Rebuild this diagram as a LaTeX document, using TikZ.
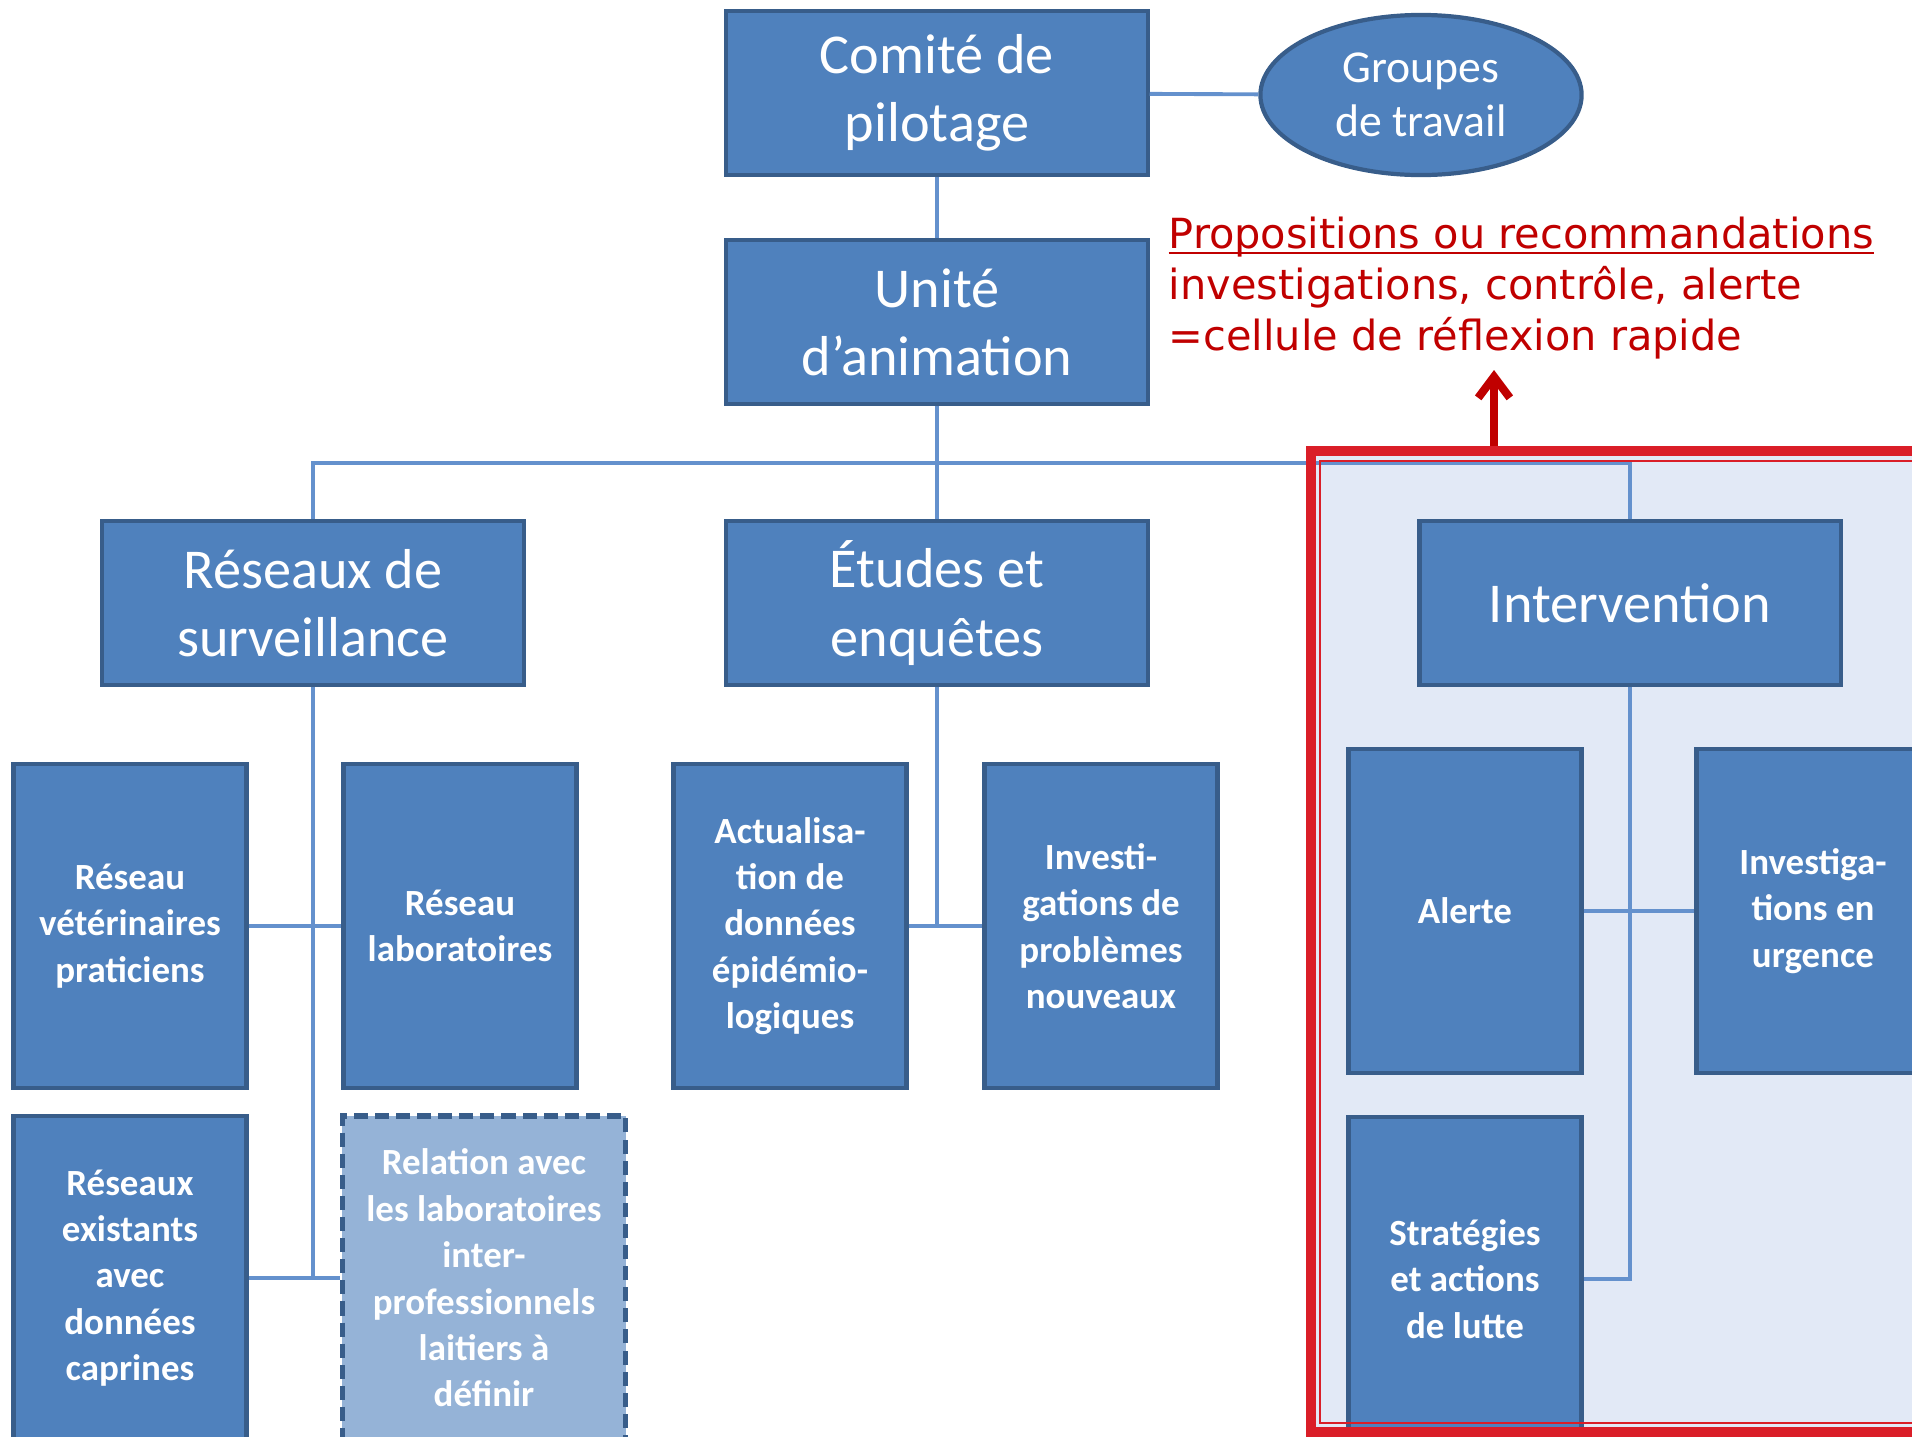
\documentclass[tikz,border=0pt]{standalone}
\usepackage{fontspec}
\setmainfont{Carlito}
\newfontfamily\notefont{DejaVu Sans}
\usetikzlibrary{shapes.geometric,arrows.meta}
\definecolor{boxblue}{RGB}{79,129,189}
\definecolor{boxedge}{RGB}{56,93,138}
\definecolor{linkblue}{RGB}{100,145,205}
\definecolor{paleblue}{RGB}{149,179,215}
\definecolor{framered}{RGB}{218,30,40}
\definecolor{notered}{RGB}{192,0,0}
\definecolor{framefill}{RGB}{226,233,246}

\begin{document}
\begin{tikzpicture}[x=0.01cm,y=-0.01cm,
        unit/.style={draw=boxedge,fill=boxblue,line width=1.2pt,text=white,align=center,inner sep=2pt},
        bigunit/.style={unit,minimum width=4.21cm,minimum height=1.64cm,font=\fontsize{16}{19.4}\selectfont},
        subunit/.style={unit,minimum width=2.33cm,minimum height=3.24cm,font=\bfseries\fontsize{10.5}{13.2}\selectfont},
        link/.style={draw=linkblue,line width=1.1pt}]
        \useasboundingbox (0,0) rectangle (1912,1436);
        \clip (0,0) rectangle (1912,1436);
        % zone intervention
        \fill[framefill] (1311,451) rectangle (1950,1432);

        \node[bigunit] (comite) at (937,93) {Comité de\\pilotage};
        \node[unit,ellipse,minimum width=3.21cm,minimum height=1.6cm,font=\fontsize{13}{15.3}\selectfont] (groupes) at (1421,95) {Groupes\\de travail};
        \node[bigunit] (unite) at (937,322) {Unité\\d’animation};
        \node[bigunit] (reseaux) at (313,603) {Réseaux de\\surveillance};
        \node[bigunit] (etudes) at (937,603) {Études et\\enquêtes};
        \node[bigunit] (interv) at (1630,603) {Intervention};

        \node[subunit] (veto) at (130,926) {Réseau\\vétérinaires\\praticiens};
        \node[subunit] (labo) at (460,926) {Réseau\\laboratoires};
        \node[subunit] (existants) at (130,1278) {Réseaux\\existants\\avec\\données\\caprines};
        \node[subunit,fill=paleblue,dash pattern=on 4pt off 2pt,line width=1.6pt,minimum width=2.83cm] (relation) at (484,1278) {Relation avec\\les laboratoires\\inter-\\professionnels\\laitiers à\\définir};
        \node[subunit] (actual) at (790,926) {Actualisa-\\tion de\\données\\épidémio-\\logiques};
        \node[subunit] (invprob) at (1101,926) {Investi-\\gations de\\problèmes\\nouveaux};
        \node[subunit] (alerte) at (1465,911) {Alerte};
        \node[subunit] (invurg) at (1813,911) {Investiga-\\tions en\\urgence};
        \node[subunit] (strat) at (1465,1279) {Stratégies\\et actions\\de lutte};

        % liens
        \coordinate (bus) at (937,463);
        \draw[link] (comite) -- (groupes);
        \draw[link] (comite) -- (unite);
        \draw[link] (unite) -- (bus);
        \draw[link] (reseaux.north) |- (bus) -| (interv.north);
        \draw[link] (bus) -- (etudes);
        \draw[link] (reseaux.south) |- (existants.east);
        \draw[link] (reseaux.south) |- (relation.west);
        \draw[link] (veto) -- (labo);
        \draw[link] (etudes.south) |- (actual.east);
        \draw[link] (actual) -- (invprob);
        \draw[link] (interv.south) |- (strat.east);
        \draw[link] (alerte) -- (invurg);

        \draw[framered,line width=2.7pt] (1311,451) rectangle (1950,1432);
        \draw[framered,line width=0.8pt] (1320,461) rectangle (1930,1423);

        \node[anchor=north west,inner sep=0pt,align=left,text=notered,font=\notefont\fontsize{11.8}{14.5}\selectfont] (props) at (1168,216) {\vphantom{Pl}\underline{\smash{Propositions ou recommandations}}\\investigations, contrôle, alerte\\=cellule de réflexion rapide};
        \coordinate (arrowfoot) at (1494,446);
        \coordinate (arrowtip) at (1494,370);
        \draw[notered,line width=2.3pt,-{Straight Barb[length=6pt,width=9pt]}] (arrowfoot) -- (arrowtip);
    \end{tikzpicture}
\end{document}
